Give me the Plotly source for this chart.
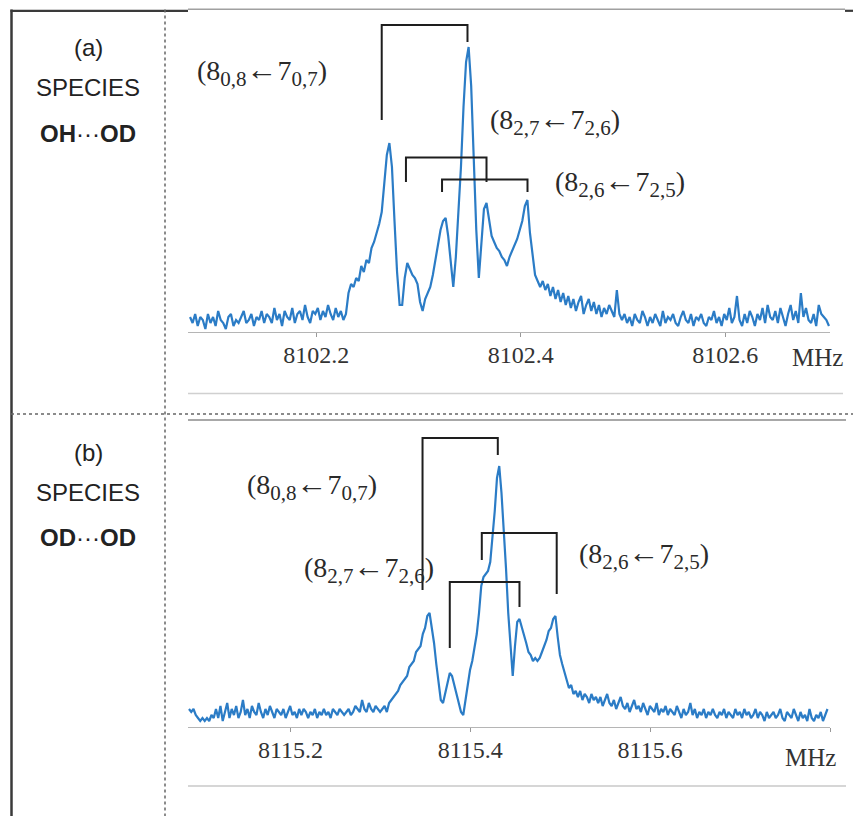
import plotly.graph_objects as go

# ---------------- data ----------------
FREQ_STEP = 0.0025

# Panel (a): species OH···OD, spectrum sampled from 8102.0765 MHz
FREQ_A_START = 8102.0765
int_a = [
    5, 3, 6, 2, 5, 4, 1, 6, 3, 5,
    2, 7, 4, 3, 1, 5, 6, 2, 4, 3,
    5, 7, 3, 4, 6, 2, 5, 4, 7, 3,
    6, 5, 3, 8, 4, 6, 2, 7, 5, 4,
    8, 3, 6, 7, 4, 9, 5, 3, 7, 6,
    8, 4, 7, 5, 9, 6, 4, 8, 5, 7,
    4, 6, 13, 16, 15, 18, 17, 22, 20, 24,
    23, 28, 30, 33, 36, 40, 50, 59, 63, 55,
    37, 20, 9, 9, 18, 23, 21, 19, 18, 16,
    10, 7, 11, 13, 15, 19, 24, 28, 34, 37,
    38, 32, 23, 15, 25, 40, 55, 75, 90, 95,
    82, 58, 34, 18, 29, 41, 43, 37, 32, 30,
    28, 27, 25, 24, 22, 25, 27, 29, 31, 34,
    37, 42, 44, 33, 25, 19, 17, 15, 17, 14,
    16, 12, 15, 11, 14, 10, 13, 9, 12, 8,
    11, 7, 10, 12, 6, 9, 11, 7, 10, 6,
    9, 5, 8, 6, 9, 7, 5, 14, 6, 4,
    6, 3, 5, 2, 6, 4, 3, 7, 5, 2,
    5, 3, 6, 4, 2, 7, 3, 5, 4, 6,
    3, 2, 5, 7, 4, 3, 6, 2, 5, 4,
    6, 3, 2, 5, 4, 7, 3, 5, 2, 6,
    4, 8, 3, 5, 12, 4, 2, 6, 3, 7,
    5, 2, 6, 4, 8, 3, 9, 5, 4, 7,
    3, 8, 5, 2, 6, 9, 4, 7, 3, 13,
    5, 8, 4, 3, 6, 2, 9, 6, 5, 4,
    2,
]

# Panel (b): species OD···OD, spectrum sampled from 8115.0872 MHz
FREQ_B_START = 8115.0872
int_b = [
    6, 5, 6, 4, 3, 2, 3, 2, 3, 2,
    4, 3, 6, 3, 7, 2, 5, 8, 3, 6,
    4, 7, 3, 5, 9, 4, 6, 3, 7, 5,
    4, 8, 5, 3, 6, 4, 7, 5, 3, 6,
    5, 4, 6, 3, 5, 7, 4, 5, 3, 6,
    4, 6, 5, 3, 5, 4, 6, 3, 5, 4,
    6, 4, 5, 3, 6, 5, 4, 6, 5, 4,
    5, 6, 4, 5, 7, 6, 5, 9, 6, 5,
    8, 6, 5, 7, 6, 5, 6, 7, 5, 8,
    9, 10, 11, 12, 14, 15, 16, 17, 20, 21,
    22, 25, 26, 27, 31, 33, 37, 38, 33, 28,
    21, 14, 9, 8, 11, 15, 18, 17, 14, 11,
    8, 5, 4, 9, 15, 19, 22, 27, 31, 38,
    47, 50, 51, 52, 55, 63, 72, 83, 87, 78,
    67, 53, 38, 26, 17, 27, 35, 36, 33, 30,
    28, 25, 24, 22, 23, 22, 23, 25, 27, 29,
    32, 33, 36, 37, 30, 24, 21, 18, 15, 13,
    14, 11, 12, 10, 12, 9, 11, 10, 8, 11,
    9, 10, 8, 10, 7, 9, 11, 8, 7, 9,
    6, 8, 10, 7, 6, 8, 5, 7, 9, 6,
    7, 5, 8, 6, 4, 7, 6, 5, 8, 4,
    6, 5, 7, 4, 6, 5, 4, 7, 5, 3,
    6, 4, 5, 8, 4, 6, 3, 5, 4, 6,
    3, 5, 4, 6, 4, 3, 5, 4, 6, 3,
    5, 4, 3, 6, 4, 5, 3, 6, 4, 5,
    3, 4, 6, 3, 5, 4, 2, 5, 3, 4,
    5, 3, 4, 6, 3, 2, 5, 4, 3, 6,
    4, 2, 5, 3, 4, 2, 6, 3, 2, 4,
    3, 5, 2, 4, 6,
]

ticks_a = [8102.2, 8102.4, 8102.6]
tick_text_a = ["8102.2", "8102.4", "8102.6"]
ticks_b = [8115.2, 8115.4, 8115.6, 8115.8]
tick_text_b = ["8115.2", "8115.4", "8115.6", ""]

# transition brackets: (left freq, right freq, top, left foot, right foot)
brackets_a = [
    (8102.2640, 8102.3479, 102.3, 70.7, 96.7),
    (8102.2877, 8102.3665, 58.2, 50.0, 50.0),
    (8102.3230, 8102.4066, 50.8, 46.7, 46.7),
]
brackets_b = [
    (8115.3469, 8115.4306, 96.3, 45.7, 90.7),
    (8115.3772, 8115.4547, 48.3, 26.3, 40.0),
    (8115.4128, 8115.4961, 64.7, 55.7, 44.3),
]

# transition labels: (upper J, Ka,Kc upper, lower J, Ka,Kc lower, freq of left edge, height)
labels_a = [
    ("8", "0,8", "7", "0,7", 8102.0813, 87.0),
    ("8", "2,7", "7", "2,6", 8102.3680, 70.5),
    ("8", "2,6", "7", "2,5", 8102.4315, 50.0),
]
labels_b = [
    ("8", "0,8", "7", "0,7", 8115.1494, 80.5),
    ("8", "2,7", "7", "2,6", 8115.2128, 53.0),
    ("8", "2,6", "7", "2,5", 8115.5183, 57.5),
]

panel_titles = [
    ("(a)", "SPECIES", "<b>OH</b>···<b>OD</b>"),
    ("(b)", "SPECIES", "<b>OD</b>···<b>OD</b>"),
]

# ---------------- figure ----------------
# the page body adds an 8px margin, so the figure is 8px smaller and every
# reference pixel position is shifted by that offset
OFF = 8
W, H = 861 - OFF, 816 - OFF


def px(x):
    return (x - OFF) / W


def py(y):
    return 1 - (y - OFF) / H


freq_a = [round(FREQ_A_START + i * FREQ_STEP, 5) for i in range(len(int_a))]
freq_b = [round(FREQ_B_START + i * FREQ_STEP, 5) for i in range(len(int_b))]

LINE_COLOR = "#2b7cc6"
fig = go.Figure()
fig.add_trace(go.Scatter(x=freq_a, y=int_a, mode="lines", xaxis="x", yaxis="y",
                         line=dict(color=LINE_COLOR, width=2.2), showlegend=False))
fig.add_trace(go.Scatter(x=freq_b, y=int_b, mode="lines", xaxis="x2", yaxis="y2",
                         line=dict(color=LINE_COLOR, width=2.2), showlegend=False))

serif = "Liberation Serif, Times New Roman, serif"
sans = "Liberation Sans, Arial, sans-serif"
axis_common = dict(showgrid=False, zeroline=False, showline=True, linecolor="#b5b5b5",
                   linewidth=1.2, ticks="outside", ticklen=4, tickcolor="#999",
                   tickwidth=1, tickfont=dict(family=serif, size=24, color="#333"),
                   ticklabelstandoff=-3)

fig.update_layout(
    width=W, height=H, margin=dict(l=0, r=0, t=0, b=0),
    paper_bgcolor="white", plot_bgcolor="rgba(0,0,0,0)",
    xaxis=dict(domain=[px(188), px(830)], range=[8102.0745, 8102.7025], anchor="y",
               tickvals=ticks_a, ticktext=tick_text_a, **axis_common),
    yaxis=dict(domain=[py(332), py(12)], range=[0, 320 / 3], visible=False, anchor="x"),
    xaxis2=dict(domain=[px(188), px(830)], range=[8115.0861, 8115.8], anchor="y2",
                tickvals=ticks_b, ticktext=tick_text_b, **axis_common),
    yaxis2=dict(domain=[py(727), py(427)], range=[0, 100], visible=False, anchor="x2"),
)

shapes = []
dark = "#3a3a3a"
shapes.append(dict(type="line", xref="paper", yref="paper", x0=px(11.5), x1=px(11.5),
                   y0=py(9.5), y1=0, line=dict(color=dark, width=2.5)))
shapes.append(dict(type="line", xref="paper", yref="paper", x0=px(10.5), x1=px(188),
                   y0=py(10.8), y1=py(10.8), line=dict(color=dark, width=2.2)))
shapes.append(dict(type="line", xref="paper", yref="paper", x0=px(188), x1=px(845),
                   y0=py(9.3), y1=py(9.3), line=dict(color="#a0a0a0", width=1.5)))
shapes.append(dict(type="line", xref="paper", yref="paper", x0=px(845), x1=1,
                   y0=py(10.8), y1=py(10.8), line=dict(color=dark, width=2.2)))
shapes.append(dict(type="line", xref="paper", yref="paper", x0=px(165), x1=px(165),
                   y0=py(9.5), y1=0, line=dict(color="#666", width=1.5, dash="dot")))
shapes.append(dict(type="line", xref="paper", yref="paper", x0=px(11), x1=1,
                   y0=py(414), y1=py(414), line=dict(color="#666", width=1.5, dash="dot")))
shapes.append(dict(type="line", xref="paper", yref="paper", x0=px(188), x1=px(846),
                   y0=py(420), y1=py(420), line=dict(color="#a8a8a8", width=2)))
shapes.append(dict(type="line", xref="paper", yref="paper", x0=px(188), x1=px(843),
                   y0=py(393.5), y1=py(393.5), line=dict(color="#d0d0d0", width=1.5)))
shapes.append(dict(type="line", xref="paper", yref="paper", x0=px(188), x1=px(846),
                   y0=py(786), y1=py(786), line=dict(color="#c8c8c8", width=1.5)))

for xr, yr, brs in (("x", "y", brackets_a), ("x2", "y2", brackets_b)):
    for fl, fr, top, lb, rb in brs:
        shapes.append(dict(type="path", xref=xr, yref=yr,
                           path=f"M {fl},{lb} L {fl},{top} L {fr},{top} L {fr},{rb}",
                           line=dict(color="#1e1e1e", width=2)))

fig.update_layout(shapes=shapes)


def transition_text(ju, ku, jl, kl):
    sub = "<sub><span style='font-size:21px'>{}</span></sub>"
    return ("(" + ju + sub.format(ku) + "<span style='font-size:31px'>←</span>"
            + jl + sub.format(kl) + ")")


ann = []
for (xr, yr, labs) in (("x", "y", labels_a), ("x2", "y2", labels_b)):
    for ju, ku, jl, kl, f, h in labs:
        ann.append(dict(text=transition_text(ju, ku, jl, kl), x=f, y=h, xref=xr, yref=yr,
                        xanchor="left", yanchor="middle", showarrow=False,
                        font=dict(family=serif, size=28, color="#2a2a2a")))

title_rows = [(47, 88, 133), (452, 492, 537)]
for (t1, t2, t3), (y1, y2, y3) in zip(panel_titles, title_rows):
    for t, yy in ((t1, y1), (t2, y2), (t3, y3)):
        ann.append(dict(text=t, x=px(88), y=py(yy), xref="paper", yref="paper",
                        xanchor="center", yanchor="middle", showarrow=False,
                        font=dict(family=sans, size=24, color="#222")))

ann.append(dict(text="MHz", x=px(817), y=py(357), xref="paper", yref="paper",
                xanchor="center", yanchor="middle", showarrow=False,
                font=dict(family=serif, size=25, color="#333")))
ann.append(dict(text="MHz", x=px(810), y=py(757), xref="paper", yref="paper",
                xanchor="center", yanchor="middle", showarrow=False,
                font=dict(family=serif, size=25, color="#333")))
fig.update_layout(annotations=ann)

fig.write_html("out.html")
